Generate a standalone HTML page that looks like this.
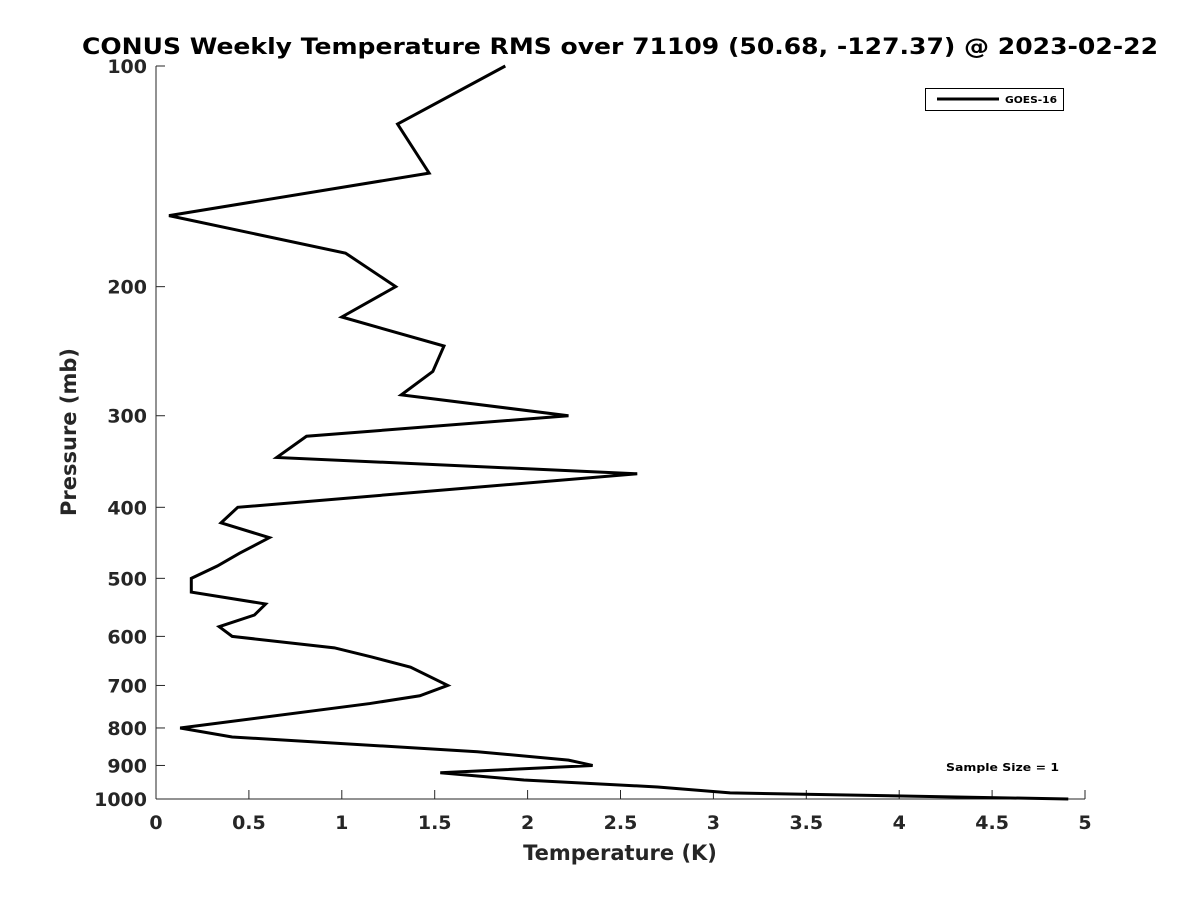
<!DOCTYPE html>
<html><head><meta charset="utf-8"><style>
body{margin:0;background:#fff;}
svg{display:block;font-family:"DejaVu Sans","Liberation Sans",sans-serif;}
</style></head><body>
<svg id="chart" width="1200" height="900">
<text x="620" y="54" text-anchor="middle" font-size="22" font-weight="bold" fill="#000" textLength="1076" lengthAdjust="spacingAndGlyphs">CONUS Weekly Temperature RMS over 71109 (50.68, -127.37) @ 2023-02-22</text>
<g id="axes"></g>
<polyline id="line" fill="none" stroke="#000" stroke-width="3" stroke-linejoin="miter"/>
<g>
<rect x="925.5" y="88.5" width="138" height="22" fill="#fff" stroke="#000" stroke-width="1"/>
<line x1="937" y1="99" x2="999" y2="99" stroke="#000" stroke-width="3"/>
<text x="1005" y="103" font-size="10" font-weight="bold" textLength="52" lengthAdjust="spacingAndGlyphs">GOES-16</text>
</g>
<text x="946" y="771" font-size="11" font-weight="bold" textLength="113" lengthAdjust="spacingAndGlyphs">Sample Size = 1</text>
<text x="620" y="860" text-anchor="middle" font-size="21" font-weight="bold" fill="#262626">Temperature (K)</text>
<text transform="translate(76,432) rotate(-90)" text-anchor="middle" font-size="21" font-weight="bold" fill="#262626">Pressure (mb)</text>
</svg>
<script>
const temps=[1.88,1.30,1.47,0.07,1.02,1.29,1.00,1.55,1.49,1.32,2.22,0.81,0.65,2.59,0.44,0.35,0.61,0.45,0.33,0.19,0.19,0.59,0.53,0.34,0.41,0.96,1.16,1.37,1.57,1.42,1.15,0.13,0.41,1.73,2.22,2.35,1.53,1.98,2.70,3.09,4.91];
const pressures=[100,120,140,160,180,200,220,241,261,281,300,320,342,360,400,420,440,462,481,500,522,542,561,582,600,622,640,661,700,723,741,800,823,862,885,900,921,942,963,981,1000];
const xTicks=[0,0.5,1,1.5,2,2.5,3,3.5,4,4.5,5];
const xTickLabels=["0","0.5","1","1.5","2","2.5","3","3.5","4","4.5","5"];
const yTicks=[100,200,300,400,500,600,700,800,900,1000];
const L=156,R=1085,T=66,B=799;
const x=v=>L+(v-0)/5*(R-L);
const y=p=>T+Math.log10(p/100)*(B-T);
const ns="http://www.w3.org/2000/svg";
const ax=document.getElementById('axes');
function mk(tag,attrs,txt){const e=document.createElementNS(ns,tag);for(const k in attrs)e.setAttribute(k,attrs[k]);if(txt!==undefined)e.textContent=txt;ax.appendChild(e);return e;}
let e=mk('line',{x1:L,y1:T,x2:L,y2:B,stroke:'#262626','stroke-width':1});


e=mk('line',{x1:L,y1:B,x2:R,y2:B,stroke:'#262626','stroke-width':1});


xTicks.forEach((v,i)=>{
 mk('line',{x1:x(v),y1:B,x2:x(v),y2:B-9,stroke:'#262626'});
 const t=mk('text',{x:x(v),y:B+30,'text-anchor':'middle','font-size':19,'font-weight':'bold',fill:'#262626'},xTickLabels[i]);
 
 
});
yTicks.forEach(p=>{
 mk('line',{x1:L,y1:y(p),x2:L+9,y2:y(p),stroke:'#262626'});
 const t=mk('text',{x:L-9,y:y(p)+7,'text-anchor':'end','font-size':19,'font-weight':'bold',fill:'#262626'},String(p));
 
 
});
document.getElementById('line').setAttribute('points',temps.map((t,i)=>x(t)+','+y(pressures[i])).join(' '));
</script>
</body></html>
